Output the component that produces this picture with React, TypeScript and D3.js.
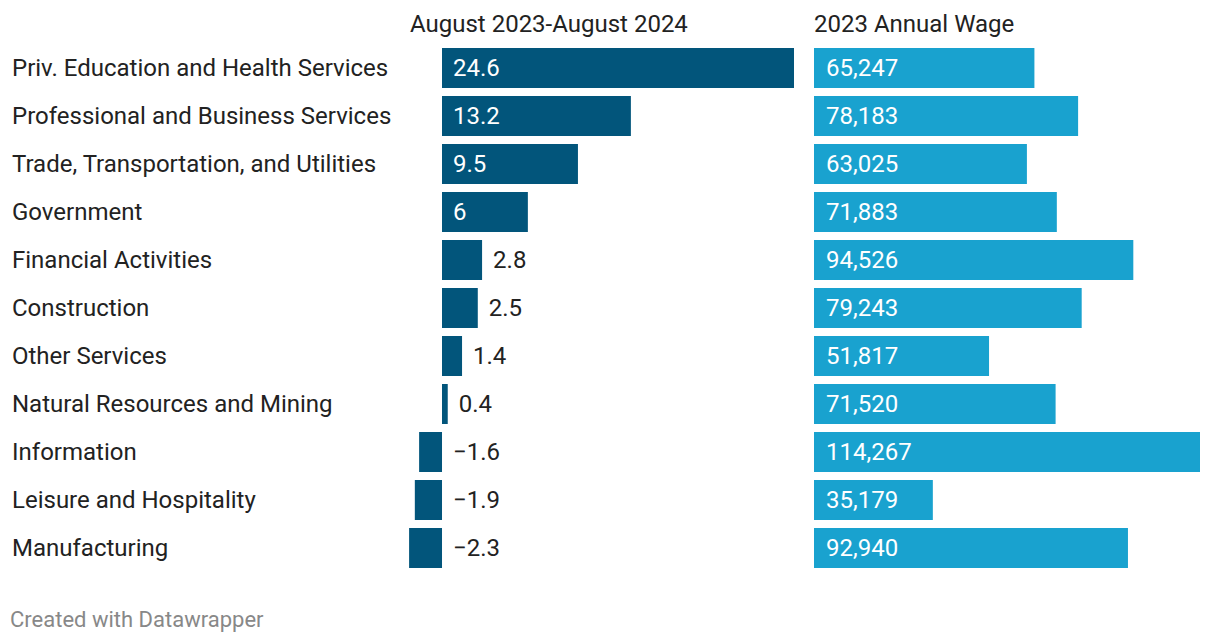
import React from "react";
import * as d3 from "d3";

const categories = [
  "Priv. Education and Health Services",
  "Professional and Business Services",
  "Trade, Transportation, and Utilities",
  "Government",
  "Financial Activities",
  "Construction",
  "Other Services",
  "Natural Resources and Mining",
  "Information",
  "Leisure and Hospitality",
  "Manufacturing",
];
const jobChange = [24.6, 13.2, 9.5, 6, 2.8, 2.5, 1.4, 0.4, -1.6, -1.9, -2.3];
const annualWage = [65247, 78183, 63025, 71883, 94526, 79243, 51817, 71520, 114267, 35179, 92940];
const headers = ["August 2023-August 2024", "2023 Annual Wage"];
const footer = "Created with Datawrapper";

const W = 1220;
const H = 644;
const FONT = "Roboto, 'Noto Sans', sans-serif";
const DARK = "#02557b";
const LIGHT = "#19a2cf";
const TEXT = "#222";
const FS = 24;

export default function App() {
  const y = d3.scaleBand<string>().domain(categories).range([48, 48 + 48 * categories.length]);
  const step = y.step();
  const bh = step - 8;
  const x1 = d3.scaleLinear().domain([d3.min(jobChange)!, d3.max(jobChange)!]).range([409.1, 794]);
  const x2 = d3.scaleLinear().domain([0, d3.max(annualWage)!]).range([814, 1200]);
  const fmt1 = (v: number) => (v < 0 ? "\u2212" + d3.format("")(Math.abs(v)) : d3.format("")(v));
  const fmt2 = d3.format(",");
  return (
    <svg width={W} height={H} style={{ position: "absolute", left: 0, top: 0, display: "block" }} fontFamily={FONT}>
      <rect width={W} height={H} fill="#fff" />
      <text x={410} y={32} fontSize={FS} fill={TEXT}>{headers[0]}</text>
      <text x={814} y={32} fontSize={FS} fill={TEXT}>{headers[1]}</text>
      {categories.map((c, i) => {
        const top = y(c)!;
        const cy = top + bh / 2;
        const v = jobChange[i];
        const x0 = x1(0);
        const xa = Math.min(x1(v), x0);
        const w1 = Math.abs(x1(v) - x0);
        const inside = v >= 5;
        const lx = inside ? x0 + 11 : Math.max(x1(v), x0) + 11;
        return (
          <g key={c}>
            <text x={12} y={cy} dy="0.35em" fontSize={FS} fill={TEXT}>{c}</text>
            <rect x={xa} y={top} width={w1} height={bh} fill={DARK} />
            <text x={lx} y={cy} dy="0.35em" fontSize={FS} fill={inside ? "#fff" : TEXT}>{fmt1(v)}</text>
            <rect x={x2(0)} y={top} width={x2(annualWage[i]) - x2(0)} height={bh} fill={LIGHT} />
            <text x={x2(0) + 12} y={cy} dy="0.35em" fontSize={FS} fill="#fff">{fmt2(annualWage[i])}</text>
          </g>
        );
      })}
      <text x={10} y={627} fontSize={22} fill="#888">{footer}</text>
    </svg>
  );
}
